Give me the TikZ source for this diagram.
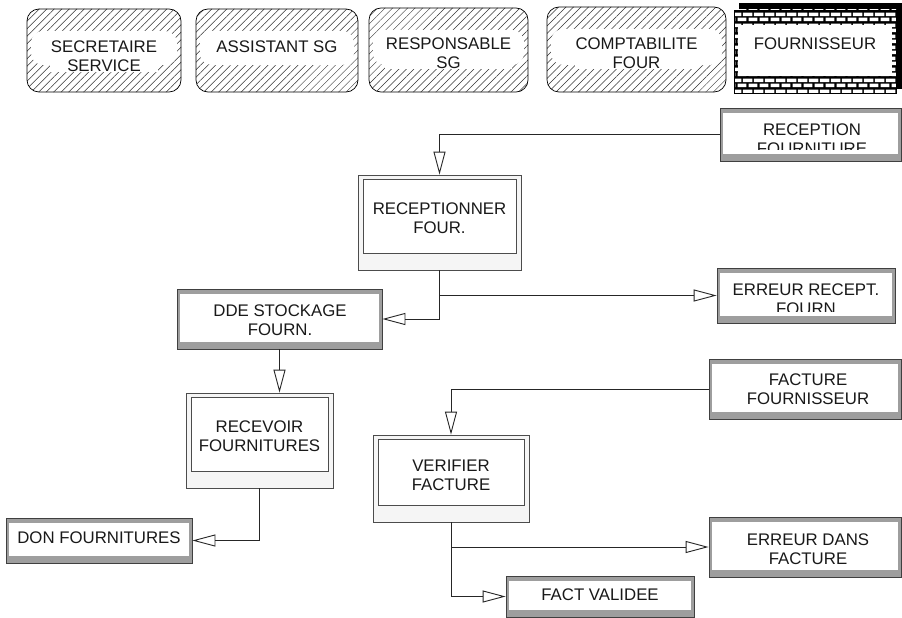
\documentclass[tikz,border=0pt]{standalone}
\usepackage{fontspec}
\setmainfont{Liberation Sans}
\usetikzlibrary{arrows.meta,patterns.meta,calc}

\pgfdeclarepattern{
  name=whitebricks,
  type=uncolored,
  bottom left={\pgfpoint{0pt}{0pt}},
  top right={\pgfpoint{11pt}{10.6pt}},
  tile size={\pgfpoint{11pt}{10.6pt}},
  code={
    \pgfpathrectangle{\pgfpoint{0.8pt}{0.8pt}}{\pgfpoint{9.4pt}{3.6pt}}
    \pgfpathrectangle{\pgfpoint{-4.7pt}{6.1pt}}{\pgfpoint{9.4pt}{3.6pt}}
    \pgfpathrectangle{\pgfpoint{6.3pt}{6.1pt}}{\pgfpoint{9.4pt}{3.6pt}}
    \pgfusepath{fill}
  }
}

\tikzset{
  lbl/.style={font=\fontsize{16.8}{19}\selectfont, align=center, inner sep=0pt, text=black!90},
  albl/.style={lbl, fill=white, inner sep=1pt},
  evt/.style={draw=black!75, line width=0.8pt, fill=black!38, inner sep=0pt,
    path picture={\fill[white] ([xshift=3pt,yshift=7pt]path picture bounding box.south west)
      rectangle ([xshift=-3pt,yshift=-5pt]path picture bounding box.north east);}},
  proc/.style={draw=black!70, line width=0.7pt, fill=black!4, inner sep=0pt,
    path picture={\draw[fill=white, line width=0.8pt] ([xshift=5pt,yshift=17pt]path picture bounding box.south west)
      rectangle ([xshift=-5pt,yshift=-4pt]path picture bounding box.north east);}},
  actor/.style={draw=black, line width=0.7pt, rounded corners=12pt,
    pattern={Lines[angle=45,distance=5.3pt,line width=0.5pt]}, pattern color=black!80, inner sep=0pt,
    path picture={\fill[white] ([xshift=4pt,yshift=27pt]path picture bounding box.south west)
      rectangle ([xshift=-4pt,yshift=-22pt]path picture bounding box.north east);}},
  fourn/.style={draw=black, line width=0.6pt, preaction={fill=black}, pattern=whitebricks, pattern color=white, inner sep=0pt,
    path picture={\fill[white] ([xshift=4pt,yshift=17pt]path picture bounding box.south west)
      rectangle ([xshift=-4pt,yshift=-15pt]path picture bounding box.north east);}},
  flow/.style={draw=black!85, line width=0.9pt, -{Triangle[open,length=23pt,width=12pt,fill=white]}},
}

\newcommand\mybox[6]{%
  \node[#1, minimum width={#5-#3}, minimum height={#6-#4}] (#2) at ({(#3+#5)/2},{(#4+#6)/2}) {};}

\begin{document}
\begin{tikzpicture}[x=1pt,y=-1pt]
\fill[white] (0,0) rectangle (902,618);
\useasboundingbox (0,0) rectangle (902,618);

% actors
\mybox{actor}{secr}{27}{9}{181}{92}
\mybox{actor}{asst}{196}{9}{358}{92}
\mybox{actor}{resp}{369}{8}{528}{92}
\mybox{actor}{compta}{547}{7}{726}{92}
\fill[black] (739,3) rectangle (902,89);
\mybox{fourn}{four}{734}{10}{896}{93}

\node[albl] (tsecr) at (104,55.75) {SECRETAIRE\\SERVICE};
\node[albl] (tasst) at (277,46.5) {ASSISTANT SG};
\node[albl] (tresp) at (448.5,52.75) {RESPONSABLE\\SG};
\node[albl] (tcompta) at (636.5,52.75) {COMPTABILITE\\FOUR};
\node[lbl] (tfour) at (815,43.5) {FOURNISSEUR};

% events
\mybox{evt}{rcpt}{720}{108}{901}{161}
\mybox{evt}{errR}{717}{268}{895}{323}
\mybox{evt}{dde}{177}{289}{382}{349}
\mybox{evt}{don}{6}{518}{192}{563}
\mybox{evt}{fact}{709}{359}{901}{419}
\mybox{evt}{errD}{709}{517}{901}{577}
\mybox{evt}{fv}{506}{576}{694}{617}

\begin{scope}
\clip (720,108) rectangle (901,149);
\node[lbl] (trcpt) at (812,139) {RECEPTION\\FOURNITURE};
\end{scope}
\begin{scope}
\clip (717,268) rectangle (895,311);
\node[lbl] (terrR) at (806,299.5) {ERREUR RECEPT.\\FOURN};
\end{scope}
\node[lbl] (tdde) at (280,320.5) {DDE STOCKAGE\\FOURN.};
\node[lbl] (tdon) at (99,538) {DON FOURNITURES};
\node[lbl] (tfact) at (808,389.5) {FACTURE\\FOURNISSEUR};
\node[lbl] (terrD) at (808,549.5) {ERREUR DANS\\FACTURE};
\node[lbl] (tfv) at (600,594.5) {FACT VALIDEE};

% processes
\mybox{proc}{recp}{358}{175}{521}{270}
\mybox{proc}{rcv}{186}{393}{333}{488}
\mybox{proc}{ver}{373}{435}{529}{522}
\node[lbl] (trecp) at (439.5,218.25) {RECEPTIONNER\\FOUR.};
\node[lbl] (trcv) at (259.5,435.75) {RECEVOIR\\FOURNITURES};
\node[lbl] (tver) at (451,475.75) {VERIFIER\\FACTURE};

% connectors
\draw[flow] (rcpt.west) -| (recp.north);
\draw[flow] (recp.south) |- (dde.east);
\draw[flow] (recp.south |- errR.west) -- (errR.west);
\draw[flow] (dde.south) -- (dde.south |- rcv.north);
\draw[flow] (rcv.south) |- (don.east);
\draw[flow] (fact.west) -| (ver.north);
\draw[flow] (ver.south) |- (fv.west);
\draw[flow] (ver.south |- errD.west) -- (errD.west);
\end{tikzpicture}
\end{document}
